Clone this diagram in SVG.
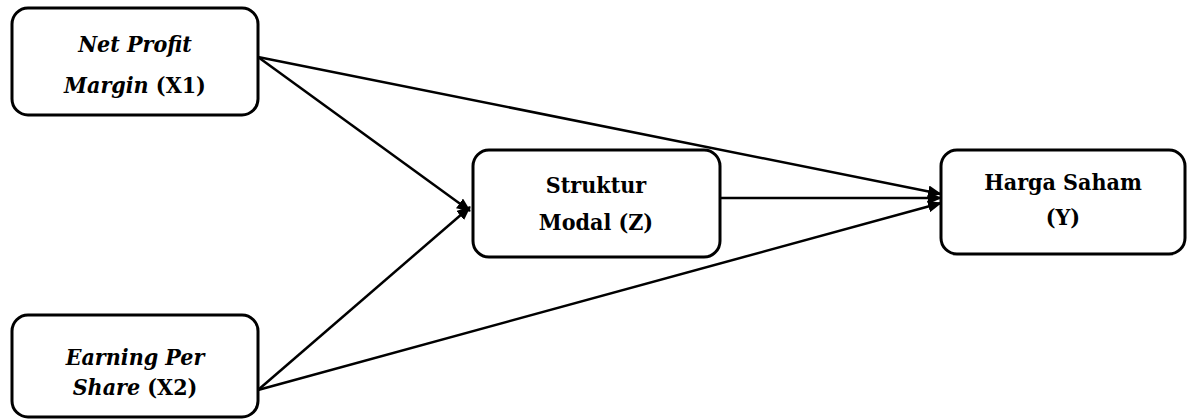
<svg xmlns="http://www.w3.org/2000/svg" width="1187" height="419" viewBox="0 0 1187 419">
  <style>
    .box { fill: #fff; stroke: #000; stroke-width: 3; }
    text { font-family: "DejaVu Serif Condensed", "DejaVu Serif", serif; font-stretch: condensed; font-size: 23px; font-weight: bold; text-anchor: middle; fill: #000; }
    .it { font-style: italic; }
    .edge { stroke: #000; stroke-width: 2.5; fill: none; marker-end: url(#arrow); }
  </style>
  <defs>
    <marker id="arrow" markerWidth="14" markerHeight="12" refX="13" refY="6" orient="auto" markerUnits="userSpaceOnUse" viewBox="0 0 14 12">
      <path d="M0,0 L14,6 L0,12 Z" fill="#000"/>
    </marker>
  </defs>

  <g id="connectors">
    <line class="edge" x1="258" y1="57" x2="470" y2="211"/>
    <line class="edge" x1="258" y1="390" x2="470" y2="207"/>
    <line class="edge" x1="258" y1="57" x2="941" y2="194"/>
    <line class="edge" x1="720" y1="198" x2="941" y2="198"/>
    <line class="edge" x1="258" y1="390" x2="941" y2="203"/>
  </g>

  <g id="node-x1">
    <rect class="box" x="12" y="8" width="246" height="107" rx="16"/>
    <text x="135" y="52"><tspan class="it">Net Profit</tspan></text>
    <text x="135" y="93"><tspan class="it">Margin</tspan> (X1)</text>
  </g>

  <g id="node-x2">
    <rect class="box" x="12" y="315" width="246" height="102" rx="16"/>
    <text x="135" y="365"><tspan class="it">Earning Per</tspan></text>
    <text x="135" y="395"><tspan class="it">Share </tspan> (X2)</text>
  </g>

  <g id="node-z">
    <rect class="box" x="473" y="150" width="247" height="107" rx="16"/>
    <text x="596" y="193">Struktur</text>
    <text x="596" y="230">Modal (Z)</text>
  </g>

  <g id="node-y">
    <rect class="box" x="941" y="150" width="244" height="104" rx="16"/>
    <text x="1063" y="190">Harga Saham</text>
    <text x="1063" y="225">(Y)</text>
  </g>
</svg>
